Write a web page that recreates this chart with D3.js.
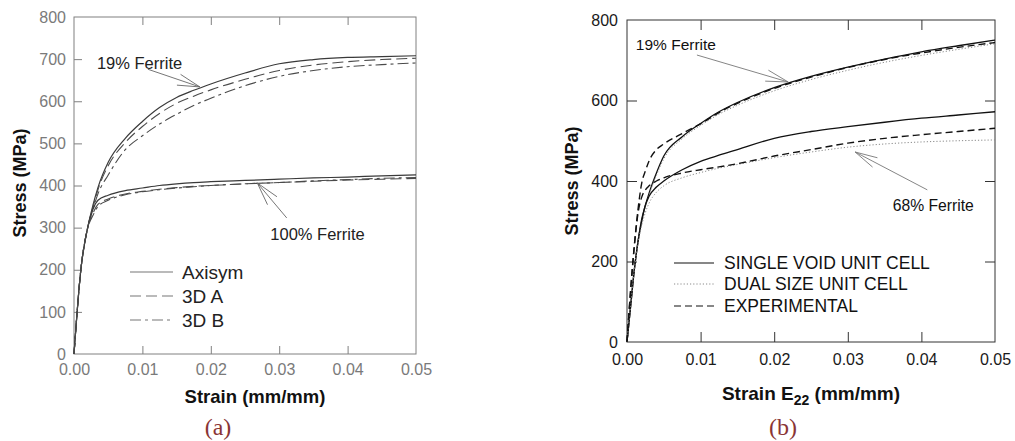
<!DOCTYPE html>
<html><head><meta charset="utf-8">
<script src="https://cdn.jsdelivr.net/npm/d3@7"></script>
<style>body{margin:0;background:#fff}svg{display:block}</style>
</head><body><svg id="c" width="1015" height="441"></svg>
<script>
// ---------- DATA: panel (a) ----------
const strainA = [0, 0.001, 0.002, 0.0028, 0.0035, 0.005, 0.0075, 0.01, 0.0125, 0.015, 0.0175, 0.02, 0.025, 0.03, 0.035, 0.04, 0.045, 0.05];
const axisym19 = [0, 200, 300, 355, 395, 455, 512, 552, 585, 609, 626, 641, 667, 689, 699, 704, 706, 708];
const d3A19    = [0, 200, 300, 350, 390, 447, 502, 540, 571, 595, 612, 627, 652, 673, 686, 694, 699, 702];
const d3B19    = [0, 200, 300, 345, 380, 425, 485, 518, 546, 569, 590, 607, 637, 659, 673, 682, 687, 691];
const axisym100 = [0, 200, 300, 345, 365, 377, 388, 394, 400, 404, 407, 409, 412, 415, 418, 420, 423, 425];
const d3A100    = [0, 200, 300, 335, 355, 368, 380, 386, 391, 395, 398, 400, 404, 407, 410, 413, 415, 417];
const d3B100    = [0, 200, 298, 330, 350, 365, 378, 385, 390, 394, 397, 400, 404, 407, 411, 414, 417, 419];
const xTicksA = [0, 0.01, 0.02, 0.03, 0.04, 0.05];
const yTicksA = [0, 100, 200, 300, 400, 500, 600, 700, 800];
const legendA = ["Axisym", "3D A", "3D B"];

// ---------- DATA: panel (b) ----------
const strainB = [0, 0.0005, 0.001, 0.0015, 0.002, 0.0025, 0.003, 0.004, 0.005, 0.0075, 0.01, 0.0125, 0.015, 0.02, 0.025, 0.03, 0.035, 0.04, 0.045, 0.05];
const single19 = [0, 90, 180, 250, 305, 340, 370, 420, 462, 510, 543, 572, 595, 632, 660, 683, 703, 721, 736, 750];
const dual19   = [0, 90, 180, 248, 300, 335, 365, 414, 455, 505, 538, 566, 588, 624, 652, 675, 695, 712, 727, 741];
const exp19    = [0, 130, 240, 330, 395, 425, 450, 478, 492, 518, 542, 570, 593, 630, 658, 682, 702, 718, 732, 744];
const single68 = [0, 90, 180, 250, 300, 340, 362, 385, 400, 428, 449, 464, 478, 506, 523, 535, 546, 556, 564, 572];
const dual68   = [0, 90, 180, 245, 290, 322, 345, 372, 388, 408, 421, 432, 441, 458, 472, 484, 492, 497, 500, 502];
const exp68    = [0, 130, 240, 320, 360, 378, 388, 400, 408, 420, 428, 435, 443, 462, 478, 494, 506, 515, 523, 531];
const xTicksB = [0, 0.01, 0.02, 0.03, 0.04, 0.05];
const yTicksB = [0, 200, 400, 600, 800];
const legendB = ["SINGLE VOID UNIT CELL", "DUAL SIZE UNIT CELL", "EXPERIMENTAL"];

const svg = d3.select("#c");
svg.append("rect").attr("width", 1015).attr("height", 441).attr("fill", "#fff");
const FONT = "'Liberation Sans', Arial, sans-serif";

function frame(x, y, o) {
  const g = svg.append("g");
  const [yb, yt] = y.range();
  const [xl, xr] = x.range();
  const inner = o.xt.filter(d => d > 0 && d < 0.05);
  const innerY = o.yt.filter(d => d > 0 && d < 800);
  const bottom = g.append("g").attr("transform", `translate(0,${yb})`)
    .call(d3.axisBottom(x).tickValues(o.xt).tickFormat(d3.format(".2f"))
      .tickSizeInner(-o.tick).tickSizeOuter(0).tickPadding(o.xpad));
  const top = g.append("g").attr("transform", `translate(0,${yt})`)
    .call(d3.axisTop(x).tickValues(inner).tickFormat("").tickSizeInner(-o.tick).tickSizeOuter(0));
  const left = g.append("g").attr("transform", `translate(${xl},0)`)
    .call(d3.axisLeft(y).tickValues(o.yt).tickFormat(d3.format("d"))
      .tickSizeInner(-o.tick).tickSizeOuter(0).tickPadding(o.ypad));
  const right = g.append("g").attr("transform", `translate(${xr},0)`)
    .call(d3.axisRight(y).tickValues(o.rightTicks ? innerY : []).tickFormat("")
      .tickSizeInner(-o.tick).tickSizeOuter(0));
  [bottom, top, left, right].forEach(a => {
    a.select(".domain").remove();
    a.selectAll("line").attr("stroke", o.axisColor).attr("stroke-width", 1);
    a.selectAll("text").attr("fill", o.labelColor).style("font-family", FONT).style("font-size", "16px");
  });
  bottom.selectAll(".tick").filter(d => d === 0 || d === 0.05).select("line").remove();
  left.selectAll(".tick").filter(d => d === 0 || d === 800).select("line").remove();
  g.append("rect").attr("x", xl).attr("y", yt).attr("width", xr - xl).attr("height", yb - yt)
    .attr("fill", "none").attr("stroke", o.axisColor).attr("stroke-width", 1);
}

function arrow(x, y, a) {
  const tx = x(a.tip[0]), ty = y(a.tip[1]), sx = x(a.tail[0]), sy = y(a.tail[1]);
  const ang = Math.atan2(sy - ty, sx - tx);
  const g = svg.append("g").attr("stroke", a.color).attr("stroke-width", 0.9).attr("fill", "none");
  g.append("line").attr("x1", sx).attr("y1", sy).attr("x2", tx).attr("y2", ty);
  [-1, 1].forEach(s => {
    const t = ang + s * a.spread;
    g.append("line").attr("x1", tx).attr("y1", ty)
      .attr("x2", tx + a.len * Math.cos(t)).attr("y2", ty + a.len * Math.sin(t));
  });
  svg.append("text").attr("x", x(a.text[0])).attr("y", y(a.text[1])).text(a.label)
    .style("font-family", FONT).style("font-size", a.size + "px").attr("fill", a.textColor);
}

// ---------- panel (a) ----------
const xA = d3.scaleLinear().domain([0, 0.05]).range([74, 416]);
const yA = d3.scaleLinear().domain([0, 800]).range([354, 17]);
frame(xA, yA, { xt: xTicksA, yt: yTicksA, tick: 8, xpad: 10, ypad: 8, axisColor: "#808080", labelColor: "#7a7a7a", rightTicks: false });

const lineA = d3.line().x(d => xA(d[0])).y(d => yA(d[1])).curve(d3.curveMonotoneX);
const stylesA = [
  { dash: null, color: "#3a3a3a", w: 1.2 },
  { dash: "11,5", color: "#4a4a4a", w: 1.1 },
  { dash: "11,4,3,4", color: "#4a4a4a", w: 1.1 }
];
[[axisym19, d3A19, d3B19], [axisym100, d3A100, d3B100]].forEach(group => {
  group.forEach((vals, i) => {
    svg.append("path").attr("d", lineA(d3.zip(strainA, vals))).attr("fill", "none")
      .attr("stroke", stylesA[i].color).attr("stroke-width", stylesA[i].w)
      .attr("stroke-dasharray", stylesA[i].dash);
  });
});
// legend (a)
legendA.forEach((name, i) => {
  const ly = 272 + i * 24;
  svg.append("line").attr("x1", 130).attr("x2", 173).attr("y1", ly).attr("y2", ly)
    .attr("stroke", "#777").attr("stroke-width", 1.1).attr("stroke-dasharray", stylesA[i].dash);
  svg.append("text").attr("x", 182).attr("y", ly + 7).text(name)
    .style("font-family", FONT).style("font-size", "19px").attr("fill", "#222");
});
arrow(xA, yA, { tail: [0.0108, 676], tip: [0.0184, 634], spread: 0.25, len: 23, color: "#666",
  text: [0.00335, 677], label: "19% Ferrite", size: 16.5, textColor: "#222" });
arrow(xA, yA, { tail: [0.0311, 323], tip: [0.0268, 406], spread: 0.26, len: 24, color: "#666",
  text: [0.0287, 271], label: "100% Ferrite", size: 16.5, textColor: "#222" });
svg.append("text").attr("x", 20).attr("y", 183).attr("transform", "rotate(-90,20,183)")
  .attr("text-anchor", "middle").attr("dominant-baseline", "central").text("Stress (MPa)")
  .style("font-family", FONT).style("font-size", "18px").style("font-weight", "bold").attr("fill", "#111");
svg.append("text").attr("x", 255).attr("y", 403).attr("text-anchor", "middle").text("Strain (mm/mm)")
  .style("font-family", FONT).style("font-size", "18.5px").style("font-weight", "bold").attr("fill", "#111");

// ---------- panel (b) ----------
const xB = d3.scaleLinear().domain([0, 0.05]).range([627, 995]);
const yB = d3.scaleLinear().domain([0, 800]).range([342, 20]);
frame(xB, yB, { xt: xTicksB, yt: yTicksB, tick: 10, xpad: 12, ypad: 9, axisColor: "#333", labelColor: "#1a1a1a", rightTicks: true });

const lineB = d3.line().x(d => xB(d[0])).y(d => yB(d[1])).curve(d3.curveMonotoneX);
const stylesB = [
  { dash: null, color: "#111", w: 1.3 },
  { dash: "1.2,2", color: "#8a8a8a", w: 1 },
  { dash: "7,4", color: "#111", w: 1.4 }
];
[[single19, dual19, exp19], [single68, dual68, exp68]].forEach(group => {
  group.forEach((vals, i) => {
    svg.append("path").attr("d", lineB(d3.zip(strainB, vals))).attr("fill", "none")
      .attr("stroke", stylesB[i].color).attr("stroke-width", stylesB[i].w)
      .attr("stroke-dasharray", stylesB[i].dash);
  });
});
legendB.forEach((name, i) => {
  const ly = [263, 284, 306][i];
  svg.append("line").attr("x1", 674).attr("x2", 714).attr("y1", ly).attr("y2", ly)
    .attr("stroke", stylesB[i].color).attr("stroke-width", i === 1 ? 1 : 1.1).attr("stroke-dasharray", stylesB[i].dash);
  svg.append("text").attr("x", 724).attr("y", ly + 6).text(name)
    .style("font-family", FONT).style("font-size", "17.5px").attr("fill", "#111");
});
arrow(xB, yB, { tail: [0.0095, 713], tip: [0.0219, 646], spread: 0.25, len: 23, color: "#777",
  text: [0.0012, 725], label: "19% Ferrite", size: 15.5, textColor: "#111" });
arrow(xB, yB, { tail: [0.0408, 378], tip: [0.031, 472], spread: 0.23, len: 23, color: "#777",
  text: [0.0361, 325], label: "68% Ferrite", size: 15.7, textColor: "#111" });
svg.append("text").attr("x", 572).attr("y", 181).attr("transform", "rotate(-90,572,181)")
  .attr("text-anchor", "middle").attr("dominant-baseline", "central").text("Stress (MPa)")
  .style("font-family", FONT).style("font-size", "18px").style("font-weight", "bold").attr("fill", "#111");
const tB = svg.append("text").attr("x", 811).attr("y", 400).attr("text-anchor", "middle")
  .style("font-family", FONT).style("font-size", "19px").style("font-weight", "bold").attr("fill", "#111");
tB.append("tspan").text("Strain E");
tB.append("tspan").attr("dy", 5).style("font-size", "14px").text("22");
tB.append("tspan").attr("dy", -5).text(" (mm/mm)");

// captions
[["(a)", 218], ["(b)", 783]].forEach(([t, cx]) => {
  svg.append("text").attr("x", cx).attr("y", 435).attr("text-anchor", "middle").text(t)
    .style("font-family", "'Liberation Serif', 'DejaVu Serif', serif").style("font-size", "24px").attr("fill", "#8a3535");
});
</script></body></html>
